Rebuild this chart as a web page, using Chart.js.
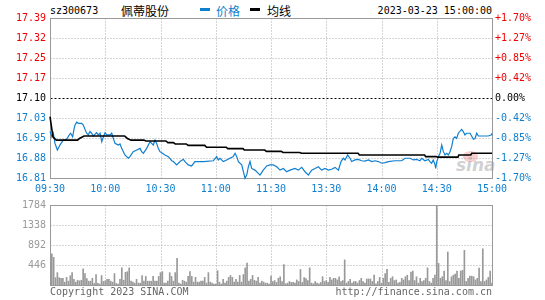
<!DOCTYPE html>
<html><head><meta charset="utf-8">
<script src="https://cdn.jsdelivr.net/npm/chart.js@4"></script>
<style>
body{margin:0;background:#fff}
#wrap{position:relative;width:545px;height:300px;overflow:hidden;font-family:'DejaVu Sans Mono',monospace;font-size:10px;line-height:12px}
.t{position:absolute;white-space:nowrap}
canvas{position:absolute;left:0}
</style></head><body>
<div id="wrap">
  <div class="t" id="code" style="left:50px;top:5px;color:#000"></div>
  <div class="t" id="name" style="left:121px;top:4px;font-family:'Noto Sans CJK SC';font-size:12px;line-height:14px;color:#000"></div>
  <div style="position:absolute;left:200px;top:8px;width:10px;height:3px;background:#0f7fcf"></div>
  <div class="t" id="lg1" style="left:216px;top:4px;font-family:'Noto Sans CJK SC';font-size:12px;line-height:14px;color:#0f7fcf"></div>
  <div style="position:absolute;left:250px;top:8px;width:10px;height:3px;background:#000"></div>
  <div class="t" id="lg2" style="left:267px;top:4px;font-family:'Noto Sans CJK SC';font-size:12px;line-height:14px;color:#000"></div>
  <div class="t" id="stamp" style="right:53px;top:5px;color:#000"></div>
  <div style="position:absolute;left:463px;top:151px;width:15px;height:11px;border-radius:50%;background:rgba(235,120,120,0.35)"></div>
  <div class="t" style="left:456px;top:156px;font-family:'DejaVu Sans';font-weight:bold;font-style:italic;font-size:17px;line-height:18px;color:rgba(150,150,150,0.45)">sina</div>
  <canvas id="pc" width="545" height="195" style="top:0"></canvas>
  <canvas id="vc" width="545" height="105" style="top:195px"></canvas>
  <div class="t" id="copy" style="left:50px;top:286px;color:#666"></div>
  <div class="t" id="url" style="right:53px;top:286px;color:#666"></div>
</div>
<script>
const stockCode = 'sz300673';
const stockName = '佩蒂股份';
const seriesNames = ['价格', '均线'];
const stamp = '2023-03-23 15:00:00';
const copyText = 'Copyright 2023 SINA.COM';
const urlText = 'http://finance.sina.com.cn';

const prevClose = 17.10;
const pctRange = 0.017;
const priceTickLabels = ['16.81','16.88','16.95','17.03','17.10','17.17','17.25','17.32','17.39'];
const pctTickLabels = ['-1.70%','-1.27%','-0.85%','-0.42%','0.00%','+0.42%','+0.85%','+1.27%','+1.70%'];
const timeLabels = ['09:30','10:00','10:30','11:00','11:30','13:30','14:00','14:30','15:00'];
const tickMinutes = [0,30,60,90,120,150,180,210,240];
const volTickValues = [0,446,892,1338,1784];
const volTickLabels = ['','446','892','1338','1784'];

const priceTimes = [0,1,1.8,2.7,4,5.4,7.2,9,10.5,11.2,12.3,13,13.6,14.5,15.4,17.2,18.1,19,19.9,20.8,21.7,22.6,23.5,25.3,26.2,27.2,28.1,29,29.9,30.8,32.6,33.5,34.4,35.3,37.1,38,38.9,40.7,42.5,43.4,45.2,47.1,48.9,49.8,50.7,52.5,54.3,55.2,56.1,57,57.9,58.8,59.7,61.5,62.4,64.3,66.1,67,68.8,70.6,72.4,73.3,75.1,76.9,78.7,80.5,83.3,88.7,90.5,91.4,92.3,94.1,95.9,97.7,99.5,100.5,101.4,102.3,104.1,105.9,106.8,107.7,108.6,109.5,111.3,113.1,114,115.8,117.7,119.5,121.3,123.1,124.9,126.7,128.5,130.3,133,134.8,136.7,138.5,140.3,142.1,143.9,145.7,147.5,149.3,151.1,152.9,154.8,156.6,158,159.3,160.2,161.6,162.9,163.8,165.6,167.4,169.2,171,172.9,174.7,176.5,178.3,180.1,181.9,183.7,187.3,191,192.8,195.5,197.3,199.1,200.9,201.8,203.6,205.4,206.3,207.2,208.1,209.1,209.4,210,210.9,211.8,212.7,213.6,214.5,215.4,216.3,217.2,218.1,219,219.9,220.8,221.7,223.5,224.4,225.3,226.2,228.1,229.9,230.8,231.7,232.6,234.4,238,239.8,240];
const priceValues = [16.978,16.959,16.972,16.935,16.911,16.929,16.947,16.950,16.966,16.972,16.959,16.986,17.002,17.012,17.008,17.008,17.002,16.986,16.972,16.966,16.978,16.972,16.962,16.974,16.966,16.972,16.941,16.959,16.974,16.966,16.966,16.972,16.953,16.935,16.929,16.933,16.917,16.893,16.881,16.887,16.905,16.911,16.917,16.905,16.899,16.917,16.941,16.935,16.929,16.947,16.935,16.917,16.905,16.897,16.893,16.887,16.872,16.869,16.857,16.869,16.877,16.869,16.857,16.853,16.869,16.869,16.869,16.872,16.887,16.875,16.881,16.869,16.875,16.881,16.887,16.899,16.887,16.869,16.857,16.808,16.820,16.850,16.869,16.844,16.838,16.826,16.820,16.838,16.853,16.857,16.857,16.850,16.838,16.844,16.832,16.838,16.844,16.838,16.848,16.832,16.820,16.838,16.844,16.850,16.838,16.844,16.838,16.841,16.848,16.838,16.869,16.881,16.875,16.893,16.881,16.869,16.875,16.877,16.872,16.871,16.875,16.869,16.872,16.869,16.863,16.865,16.869,16.872,16.872,16.881,16.881,16.875,16.877,16.872,16.881,16.872,16.877,16.869,16.863,16.875,16.857,16.844,16.869,16.887,16.899,16.929,16.905,16.893,16.899,16.893,16.905,16.923,16.953,16.959,16.953,16.972,16.986,16.978,16.966,16.972,16.972,16.950,16.953,16.972,16.962,16.962,16.962,16.966,16.972];

const avgTimes = [0,1.6,3.4,15,16,18.5,40.5,42,44,51,52,63,64,67,68,74,75,84,85,95.7,96.5,104.8,105.5,116.6,117.5,125.6,126.5,135.6,136.5,167.3,168,203.4,204,209.8,210.5,221.5,222,228.5,229,240];
const avgValues = [17.032,16.959,16.947,16.947,16.953,16.962,16.962,16.953,16.947,16.947,16.944,16.944,16.938,16.938,16.933,16.933,16.928,16.928,16.921,16.921,16.916,16.916,16.911,16.911,16.906,16.906,16.902,16.902,16.899,16.899,16.893,16.893,16.887,16.887,16.885,16.885,16.893,16.893,16.899,16.899];

const volumes = [
425,695,616,163,276,163,150,150,64,170,
85,205,276,127,64,106,92,106,361,255,
142,85,85,150,35,233,35,21,212,78,
92,127,127,85,64,255,35,21,127,382,
106,283,297,382,85,64,42,127,42,42,
212,85,191,85,85,85,191,85,85,
191,276,297,42,42,85,276,191,85,276,
595,42,21,106,85,64,191,297,191,64,
170,64,64,85,85,170,42,276,64,42,
21,21,318,64,21,127,42,85,170,212,
170,64,127,64,212,64,233,382,488,85,
127,212,106,85,170,42,85,64,42,42,
21,
198,78,99,57,149,184,78,453,28,42,78,57,57,42,113,78,347,57,163,142,99,382,42,28,78,42,28,57,
184,78,99,57,170,113,149,149,113,184,
78,99,559,42,78,127,42,78,78,42,
99,149,78,42,134,134,134,78,219,28,78,
170,42,149,255,347,57,149,184,99,113,
42,57,149,113,184,219,99,290,312,99,
184,42,149,78,99,149,382,78,42,149,
219,
1784,
481,149,184,312,99,736,78,184,219,241,312,149,312,326,772,78,149,198,198,184,113,149,375,78,807,78,113,170,312,42];

const BLUE = '#0f7fcf', RED = '#f00000', GRID = '#ababab', FRAME = '#999999';
const FONT = {family: "'DejaVu Sans Mono'", size: 10};

document.getElementById('code').textContent = stockCode;
document.getElementById('name').textContent = stockName;
document.getElementById('lg1').textContent = seriesNames[0];
document.getElementById('lg2').textContent = seriesNames[1];
document.getElementById('stamp').textContent = stamp;
document.getElementById('copy').textContent = copyText;
document.getElementById('url').textContent = urlText;

const LOW = prevClose * (1 - pctRange), HIGH = prevClose * (1 + pctRange);

function gridPlugin(id, midValue) {
  return {
    id,
    beforeDatasetsDraw(chart) {
      const {ctx, chartArea: a} = chart;
      const xs = chart.scales.x, ys = chart.scales.y;
      const L = Math.round(a.left) + 0.5, R = Math.round(a.right) + 0.5;
      const T = Math.round(a.top) + 0.5, B = Math.round(a.bottom) + 0.5;
      ctx.save();
      ctx.lineWidth = 1;
      tickMinutes.slice(1, -1).forEach(v => {
        const x = Math.round(xs.getPixelForValue(v)) + 0.5;
        ctx.strokeStyle = GRID; ctx.setLineDash([1, 2]);
        ctx.beginPath(); ctx.moveTo(x, T); ctx.lineTo(x, B); ctx.stroke();
      });
      ys.ticks.slice(1, -1).forEach(t => {
        const y = Math.round(ys.getPixelForValue(t.value)) + 0.5;
        const mid = midValue !== null && Math.abs(t.value - midValue) < 1e-6;
        ctx.strokeStyle = mid ? '#000' : GRID;
        ctx.setLineDash(mid ? [2, 2] : [1, 2]);
        ctx.beginPath(); ctx.moveTo(L, y); ctx.lineTo(R, y); ctx.stroke();
      });
      ctx.setLineDash([]);
      ctx.strokeStyle = FRAME;
      ctx.strokeRect(L, T, R - L, B - T);
      ctx.restore();
    }
  };
}

new Chart(document.getElementById('pc'), {
  type: 'line',
  data: {
    datasets: [
      {label: seriesNames[1], data: avgTimes.map((t, i) => ({x: t, y: avgValues[i]})),
       borderColor: '#000', borderWidth: 1.6, pointRadius: 0, tension: 0, clip: 5},
      {label: seriesNames[0], data: priceTimes.map((t, i) => ({x: t, y: priceValues[i]})),
       borderColor: BLUE, borderWidth: 1.2, pointRadius: 0, tension: 0, clip: 5}
    ]
  },
  options: {
    responsive: false, animation: false, devicePixelRatio: 1,
    layout: {padding: {top: 18, left: 0, right: 0, bottom: 0}},
    plugins: {legend: {display: false}, tooltip: {enabled: false}},
    scales: {
      x: {
        type: 'linear', min: 0, max: 240, offset: false,
        grid: {display: false, drawTicks: false}, border: {display: false},
        afterBuildTicks: s => { s.ticks = tickMinutes.map(v => ({value: v})); },
        afterFit: s => { s.height = 17; },
        ticks: {autoSkip: false, maxRotation: 0, padding: 5, color: BLUE, font: FONT,
                callback: (v, i) => timeLabels[i]}
      },
      y: {
        position: 'left', min: LOW, max: HIGH,
        grid: {display: false, drawTicks: false}, border: {display: false},
        afterBuildTicks: s => { s.ticks = priceTickLabels.map((_, k) => ({value: LOW + k * (HIGH - LOW) / 8})); },
        afterFit: s => { s.width = 50; },
        ticks: {padding: 4, font: FONT, autoSkip: false,
                color: c => c.index > 4 ? RED : (c.index === 4 ? '#000' : BLUE),
                callback: (v, i) => priceTickLabels[i]}
      },
      y2: {
        position: 'right', min: LOW, max: HIGH,
        grid: {display: false, drawTicks: false}, border: {display: false},
        afterBuildTicks: s => { s.ticks = pctTickLabels.map((_, k) => ({value: LOW + k * (HIGH - LOW) / 8})); },
        afterFit: s => { s.width = 53; },
        ticks: {padding: 3, font: FONT, autoSkip: false,
                color: c => c.index > 4 ? RED : (c.index === 4 ? '#000' : BLUE),
                callback: (v, i) => pctTickLabels[i]}
      }
    }
  },
  plugins: [gridPlugin('pgrid', prevClose)]
});

new Chart(document.getElementById('vc'), {
  type: 'bar',
  data: {
    datasets: [{label: 'volume', data: volumes.map((v, i) => ({x: i, y: v})),
                backgroundColor: '#999999', borderWidth: 0, barThickness: 1}]
  },
  options: {
    responsive: false, animation: false, devicePixelRatio: 1,
    layout: {padding: {top: 6, left: 0, right: 53, bottom: 15}},
    plugins: {legend: {display: false}, tooltip: {enabled: false}},
    scales: {
      x: {type: 'linear', min: 0, max: 240, offset: false, display: false,
          afterBuildTicks: s => { s.ticks = tickMinutes.map(v => ({value: v})); }},
      y: {
        min: 0, max: volTickValues[volTickValues.length - 1],
        grid: {display: false, drawTicks: false}, border: {display: false},
        afterBuildTicks: s => { s.ticks = volTickValues.map(v => ({value: v})); },
        afterFit: s => { s.width = 50; },
        ticks: {padding: 4, font: FONT, color: '#999999', autoSkip: false,
                callback: (v, i) => volTickLabels[i]}
      }
    }
  },
  plugins: [gridPlugin('vgrid', null)]
});
</script>
</body></html>
